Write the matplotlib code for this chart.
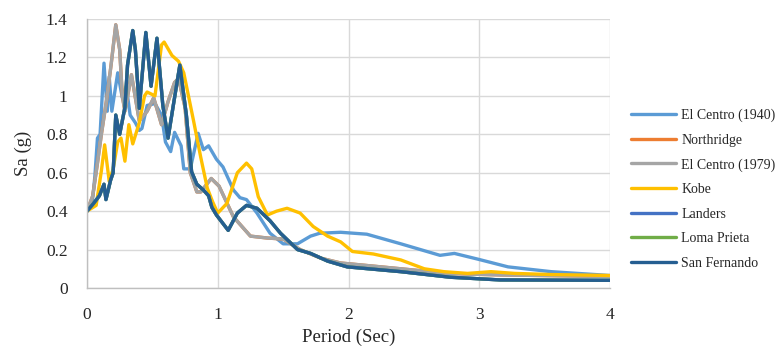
"""Spectral acceleration of several ground motions versus period."""
import matplotlib
matplotlib.use("Agg")
import matplotlib.pyplot as plt

plt.rcParams["font.family"] = ["Liberation Serif", "DejaVu Serif"]

# El Centro (1940)
t_elcentro_1940 = [0.00, 0.04, 0.06, 0.08, 0.10, 0.13, 0.155, 0.17, 0.19, 0.235,
                   0.27, 0.30, 0.33, 0.37, 0.40, 0.42, 0.46, 0.52, 0.57, 0.60,
                   0.64, 0.67, 0.72, 0.74, 0.79, 0.85, 0.89, 0.93, 0.99, 1.04,
                   1.12, 1.17, 1.22, 1.30, 1.40, 1.50, 1.61, 1.71, 1.78, 1.94,
                   2.14, 2.40, 2.70, 2.81, 2.99, 3.22, 3.55, 4.00]
sa_elcentro_1940 = [0.40, 0.44, 0.58, 0.78, 0.80, 1.17, 0.92, 1.10, 0.92, 1.12,
                    0.99, 1.05, 0.90, 0.86, 0.82, 0.83, 0.95, 0.96, 0.90, 0.76,
                    0.71, 0.81, 0.74, 0.62, 0.62, 0.805, 0.72, 0.74, 0.67, 0.63,
                    0.51, 0.47, 0.46, 0.39, 0.285, 0.23, 0.23, 0.27, 0.285, 0.29,
                    0.28, 0.23, 0.17, 0.18, 0.15, 0.11, 0.085, 0.065]

# El Centro (1979)
t_elcentro_1979 = [0.00, 0.044, 0.08, 0.11, 0.15, 0.184, 0.22, 0.25, 0.27, 0.29,
                   0.34, 0.37, 0.40, 0.46, 0.51, 0.57, 0.62, 0.67, 0.70, 0.75,
                   0.79, 0.84, 0.87, 0.95, 1.01, 1.12, 1.25, 1.38, 1.50, 1.63,
                   1.79, 1.94, 2.02, 2.40, 2.78, 3.16, 4.00]
sa_elcentro_1979 = [0.40, 0.48, 0.65, 0.80, 0.98, 1.16, 1.37, 1.24, 1.00, 0.92,
                    1.11, 0.99, 0.87, 0.92, 0.99, 0.85, 0.97, 1.07, 1.09, 0.94,
                    0.60, 0.50, 0.50, 0.57, 0.53, 0.37, 0.27, 0.26, 0.255, 0.20,
                    0.155, 0.13, 0.125, 0.10, 0.075, 0.068, 0.06]

# Northridge lies exactly under El Centro (1979) in the source chart
t_northridge = list(t_elcentro_1979)
sa_northridge = list(sa_elcentro_1979)

# Kobe
t_kobe = [0.00, 0.07, 0.11, 0.135, 0.17, 0.20, 0.235, 0.26, 0.29, 0.32,
          0.35, 0.40, 0.44, 0.46, 0.52, 0.57, 0.59, 0.65, 0.70, 0.74,
          0.815, 0.87, 0.92, 0.96, 1.00, 1.07, 1.15, 1.22, 1.26, 1.31,
          1.38, 1.45, 1.53, 1.63, 1.73, 1.84, 1.94, 2.03, 2.19, 2.40,
          2.58, 2.73, 2.91, 3.09, 3.27, 3.55, 4.00]
sa_kobe = [0.40, 0.43, 0.61, 0.745, 0.555, 0.62, 0.76, 0.78, 0.66, 0.85,
           0.75, 0.86, 1.00, 1.02, 1.00, 1.265, 1.28, 1.21, 1.18, 1.12,
           0.87, 0.68, 0.52, 0.45, 0.39, 0.44, 0.60, 0.65, 0.62, 0.475,
           0.38, 0.40, 0.415, 0.39, 0.32, 0.27, 0.24, 0.19, 0.177, 0.146,
           0.10, 0.085, 0.076, 0.085, 0.076, 0.07, 0.065]

# San Fernando
t_san_fernando = [0.00, 0.05, 0.095, 0.13, 0.145, 0.18, 0.20, 0.22, 0.25, 0.29,
                  0.31, 0.35, 0.37, 0.40, 0.45, 0.49, 0.535, 0.58, 0.62, 0.66,
                  0.71, 0.76, 0.80, 0.84, 0.89, 0.93, 0.955, 0.99, 1.08, 1.15,
                  1.22, 1.30, 1.40, 1.48, 1.61, 1.71, 1.84, 1.99, 2.40, 2.78,
                  3.16, 4.00]
sa_san_fernando = [0.40, 0.44, 0.48, 0.54, 0.46, 0.56, 0.60, 0.90, 0.80, 0.94,
                   1.16, 1.34, 1.24, 0.935, 1.33, 1.05, 1.30, 0.95, 0.78, 0.95,
                   1.16, 0.90, 0.605, 0.54, 0.51, 0.48, 0.42, 0.38, 0.30, 0.39,
                   0.43, 0.415, 0.35, 0.285, 0.20, 0.18, 0.14, 0.11, 0.085, 0.056,
                   0.042, 0.04]

# Landers and Loma Prieta are hidden under San Fernando
t_landers = list(t_san_fernando)
sa_landers = list(sa_san_fernando)
t_loma_prieta = list(t_san_fernando)
sa_loma_prieta = list(sa_san_fernando)

SERIES = [
    ("El Centro (1940)", t_elcentro_1940, sa_elcentro_1940, "#5B9BD5"),
    ("Northridge", t_northridge, sa_northridge, "#ED7D31"),
    ("El Centro (1979)", t_elcentro_1979, sa_elcentro_1979, "#A5A5A5"),
    ("Kobe", t_kobe, sa_kobe, "#FFC000"),
    ("Landers", t_landers, sa_landers, "#4472C4"),
    ("Loma Prieta", t_loma_prieta, sa_loma_prieta, "#70AD47"),
    ("San Fernando", t_san_fernando, sa_san_fernando, "#255E91"),
]

x_ticks = [0, 1, 2, 3, 4]
y_ticks = [0, 0.2, 0.4, 0.6, 0.8, 1.0, 1.2, 1.4]
y_tick_labels = ["0", "0.2", "0.4", "0.6", "0.8", "1", "1.2", "1.4"]

fig = plt.figure(figsize=(7.78, 3.5), dpi=100)
ax = fig.add_axes([87 / 778, 62 / 350, 523 / 778, 269 / 350])

for name, t, sa, color in SERIES:
    ax.plot(t, sa, color=color, linewidth=2.4, label=name,
            solid_joinstyle="round", solid_capstyle="round")

ax.set_xlim(0, 4)
ax.set_ylim(0, 1.4)
ax.set_xticks(x_ticks)
ax.set_yticks(y_ticks)
ax.set_yticklabels(y_tick_labels)
ax.grid(True, color="#D9D9D9", linewidth=1.0)
ax.set_axisbelow(True)
for side in ("top", "right"):
    ax.spines[side].set_visible(False)
for side in ("left", "bottom"):
    ax.spines[side].set_color("#BFBFBF")
    ax.spines[side].set_linewidth(1.0)
ax.tick_params(length=0, labelsize=12.5, colors="#262626")
ax.tick_params(axis="x", pad=14)
ax.tick_params(axis="y", pad=14)

ax.set_xlabel("Period (Sec)", fontsize=13.5, color="#262626", labelpad=4)
ax.set_ylabel("Sa (g)", fontsize=13.5, color="#262626", labelpad=10)

fig.legend(
    loc="upper left",
    bbox_to_anchor=(618 / 778, 1 - 96 / 350),
    frameon=False,
    fontsize=10,
    handlelength=3.3,
    handletextpad=0.36,
    labelspacing=0.83,
    labelcolor="#262626",
)

fig.savefig("out.png", dpi=100)
